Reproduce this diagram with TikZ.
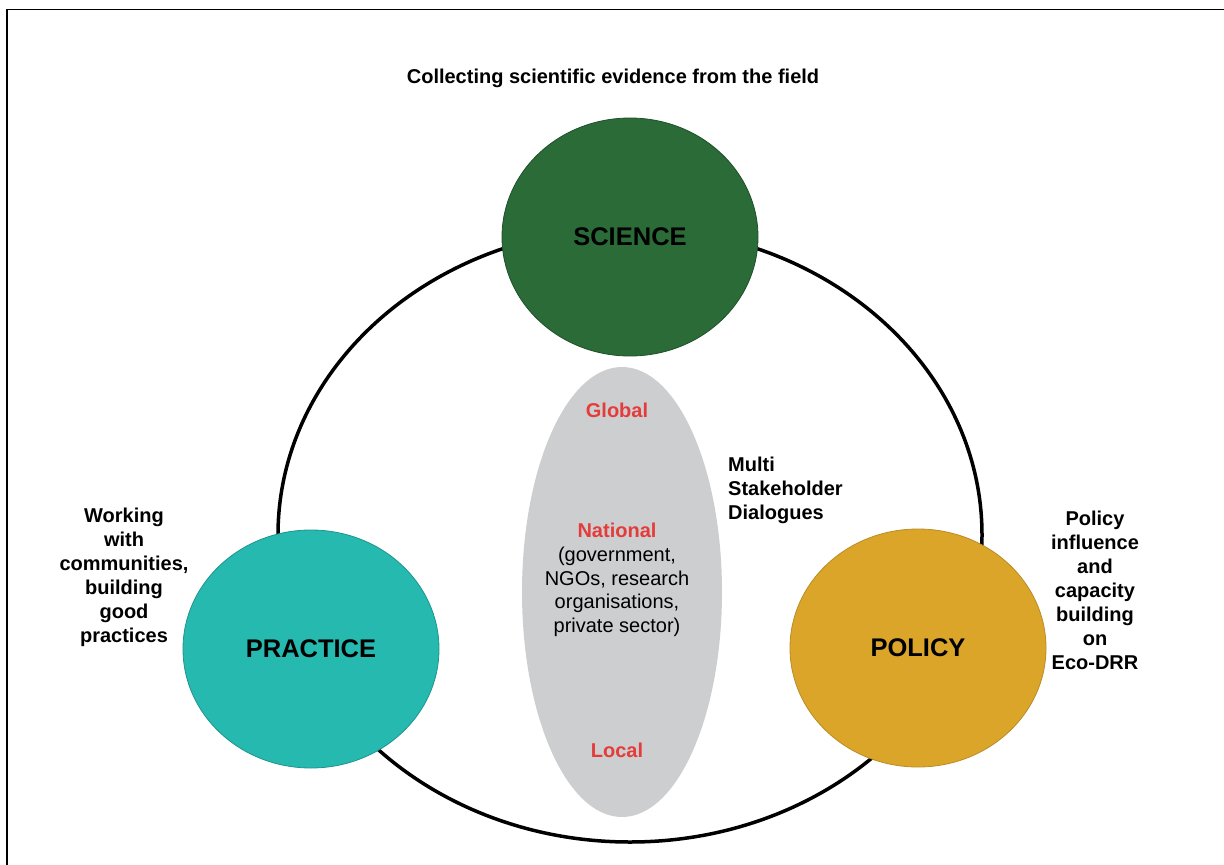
\documentclass[tikz,border=0pt]{standalone}
\usepackage{fontspec}
\setmainfont{Liberation Sans}
\usetikzlibrary{shapes.geometric}

\definecolor{sciencegreen}{RGB}{42,107,56}
\definecolor{practiceteal}{RGB}{38,185,176}
\definecolor{policygold}{RGB}{219,165,42}
\definecolor{dialoguegrey}{RGB}{205,206,208}
\definecolor{levelred}{RGB}{228,60,58}

\tikzset{
  hub/.style={ellipse, minimum width=256bp, minimum height=238bp, inner sep=0pt,
    line width=0.8bp, font=\fontsize{25.5bp}{30bp}\selectfont\bfseries, text=black},
  note/.style={align=center, inner sep=0pt,
    font=\fontsize{20bp}{24bp}\selectfont\bfseries},
  level/.style={inner sep=0pt, text=levelred,
    font=\fontsize{20bp}{24bp}\selectfont\bfseries},
  members/.style={align=center, inner sep=0pt,
    font=\fontsize{20bp}{23.6bp}\selectfont}
}

\begin{document}
\begin{tikzpicture}[x=1bp, y=-1bp]
  \useasboundingbox (0,0) rectangle (1224,865);
  % page frame (left and top edges)
  \draw[line width=1.6bp] (7,865) -- (7,9.5) -- (1224,9.5);

  % the ring joining the three spheres
  \node[ellipse, draw=black, line width=3.5bp, minimum width=704bp,
        minimum height=614bp, inner sep=0pt] (ring) at (630,535) {};

  % multi stakeholder dialogue space
  \node[ellipse, fill=dialoguegrey, minimum width=200bp, minimum height=450bp,
        inner sep=0pt] (dialogue) at (622,592) {};

  % the three spheres
  \node[hub, fill=sciencegreen, draw=sciencegreen!75!black] (science) at (630,237) {SCIENCE};
  \node[hub, fill=practiceteal, draw=practiceteal!80!black] (practice) at (311,649) {PRACTICE};
  \node[hub, fill=policygold, draw=policygold!85!black] (policy) at (918,648) {POLICY};

  % descriptions around the spheres
  \node[note] (sciencenote) at (613,78) {Collecting scientific evidence from the field};
  \node[note] (practicenote) at (124,577)
    {Working\\with\\communities,\\building\\good\\practices};
  \node[note] (policynote) at (1095,590)
    {Policy\\influence\\and\\capacity\\building\\on\\Eco-DRR};
  \node[note, align=left, anchor=west] (dialoguenote) at (728,490)
    {Multi\\Stakeholder\\Dialogues};

  % levels inside the dialogue space
  \node[level] (global) at (617,410) {Global};
  \node[members] (national) at (617,580)
    {\textcolor{levelred}{\bfseries National}\\(government,\\NGOs, research\\organisations,\\private sector)};
  \node[level] (local) at (617,750) {Local};
\end{tikzpicture}
\end{document}
